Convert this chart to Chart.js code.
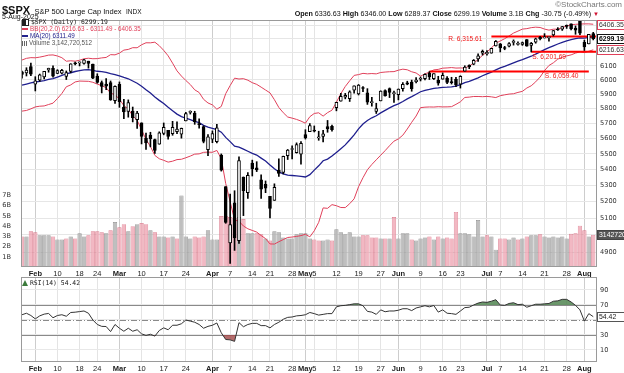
<!DOCTYPE html>
<html><head><meta charset="utf-8">
<script src="https://cdn.jsdelivr.net/npm/chart.js@4.4.1/dist/chart.umd.min.js"></script>
<style>
html,body{margin:0;padding:0;background:#fff;}
#wrap{position:relative;width:624px;height:373px;overflow:hidden;font-family:"Liberation Sans",Arial,sans-serif;color:#111;}
canvas{position:absolute;left:0;}
#cPrice{top:0;width:624px;height:277px;}
#cRsi{top:277px;width:624px;height:96px;}
.t{position:absolute;white-space:nowrap;line-height:1;}
.ic{display:inline-block;vertical-align:middle;margin-right:2px;}
</style></head><body>
<div id="wrap">
<canvas id="cPrice" width="624" height="277"></canvas>
<canvas id="cRsi" width="624" height="96"></canvas>
<div class="t" style="left:2px;top:1px;"><b style="font-size:11px">$SPX</b> <span style="font-size:7.5px">S&amp;P 500 Large Cap Index</span> <span style="font-size:6.5px">INDX</span></div>
<div class="t" style="left:2px;top:12.5px;font-size:7px;">5-Aug-2025</div>
<div class="t" style="right:2px;top:1px;font-size:8px;color:#777;">©StockCharts.com</div>
<div class="t" style="right:25px;top:11px;font-size:7.15px;"><b>Open</b> 6336.63 <b>High</b> 6346.00 <b>Low</b> 6289.37 <b>Close</b> 6299.19 <b>Volume</b> 3.1B <b>Chg</b> -30.75 (-0.49%) <span style="color:#d01030;font-size:6px;">&#9660;</span></div>
<div class="t" id="lg1" style="left:22px;top:19px;font-size:6.4px;font-family:'DejaVu Sans Mono',monospace;color:#222;"></div>
<div class="t" id="lg2" style="left:22px;top:26px;font-size:6.3px;color:#e0405a;"></div>
<div class="t" id="lg3" style="left:22px;top:33px;font-size:6.3px;color:#22228c;"></div>
<div class="t" id="lg4" style="left:22px;top:40px;font-size:6.3px;color:#555;"></div>
<div class="t" id="lg5" style="left:22px;top:280px;font-size:6.4px;font-family:'DejaVu Sans Mono',monospace;color:#222;"></div>
</div>
<script>
// ---------------- data ----------------
const dates = [
'2025-01-29','2025-01-30','2025-01-31','2025-02-03','2025-02-04','2025-02-05','2025-02-06','2025-02-07','2025-02-10','2025-02-11',
'2025-02-12','2025-02-13','2025-02-14','2025-02-18','2025-02-19','2025-02-20','2025-02-21','2025-02-24','2025-02-25','2025-02-26',
'2025-02-27','2025-02-28','2025-03-03','2025-03-04','2025-03-05','2025-03-06','2025-03-07','2025-03-10','2025-03-11','2025-03-12',
'2025-03-13','2025-03-14','2025-03-17','2025-03-18','2025-03-19','2025-03-20','2025-03-21','2025-03-24','2025-03-25','2025-03-26',
'2025-03-27','2025-03-28','2025-03-31','2025-04-01','2025-04-02','2025-04-03','2025-04-04','2025-04-07','2025-04-08','2025-04-09',
'2025-04-10','2025-04-11','2025-04-14','2025-04-15','2025-04-16','2025-04-17','2025-04-21','2025-04-22','2025-04-23','2025-04-24',
'2025-04-25','2025-04-28','2025-04-29','2025-04-30','2025-05-01','2025-05-02','2025-05-05','2025-05-06','2025-05-07','2025-05-08',
'2025-05-09','2025-05-12','2025-05-13','2025-05-14','2025-05-15','2025-05-16','2025-05-19','2025-05-20','2025-05-21','2025-05-22',
'2025-05-23','2025-05-27','2025-05-28','2025-05-29','2025-05-30','2025-06-02','2025-06-03','2025-06-04','2025-06-05','2025-06-06',
'2025-06-09','2025-06-10','2025-06-11','2025-06-12','2025-06-13','2025-06-16','2025-06-17','2025-06-18','2025-06-20','2025-06-23',
'2025-06-24','2025-06-25','2025-06-26','2025-06-27','2025-06-30','2025-07-01','2025-07-02','2025-07-03','2025-07-07','2025-07-08',
'2025-07-09','2025-07-10','2025-07-11','2025-07-14','2025-07-15','2025-07-16','2025-07-17','2025-07-18','2025-07-21','2025-07-22',
'2025-07-23','2025-07-24','2025-07-25','2025-07-28','2025-07-29','2025-07-30','2025-07-31','2025-08-01','2025-08-04','2025-08-05'];

const openP = [
6057,6050,6096,5970,5998,6021,6072,6083,6047,6049,
6025,6061,6115,6121,6118,6134,6114,6027,5982,5971,
5981,5856,5969,5812,5782,5785,5726,5705,5604,5624,
5594,5563,5635,5655,5632,5646,5630,5718,5776,5771,
5695,5679,5527,5597,5580,5492,5292,4953,5193,4966,
5353,5255,5441,5411,5335,5306,5232,5208,5395,5381,
5489,5529,5508,5499,5626,5646,5655,5605,5614,5680,
5681,5807,5853,5880,5869,5929,5902,5944,5910,5842,
5782,5854,5926,5939,5904,5897,5938,5979,5985,5988,
6005,6009,6049,6010,5997,6005,6013,5987,6004,5970,
6062,6104,6112,6150,6193,6187,6193,6246,6261,6230,
6243,6271,6256,6257,6292,6249,6273,6308,6304,6306,
6326,6368,6370,6397,6409,6377,6428,6271,6260,6336.63];
const highP = [
6063,6087,6120,6023,6042,6062,6084,6101,6073,6076,
6064,6116,6127,6129,6147,6134,6114,6044,5993,6010,
5993,5959,5986,5865,5861,5812,5783,5705,5636,5642,
5597,5645,5704,5655,5715,5711,5670,5775,5786,5783,
5732,5685,5627,5651,5695,5500,5292,5246,5267,5481,
5353,5381,5460,5450,5367,5328,5232,5310,5469,5486,
5529,5553,5572,5581,5659,5700,5684,5649,5654,5721,
5690,5845,5906,5906,5924,5958,5968,5954,5939,5878,
5838,5924,5931,5944,5922,5937,5981,5991,5999,6017,
6021,6043,6059.4,6045,6026,6050,6024,6019,6018,6030,
6101,6108,6146,6187,6215,6211,6228,6285,6263,6242,
6269,6290,6275,6274,6292,6271,6303,6315.61,6336,6310,
6360,6381,6390,6401,6410,6394,6428,6288,6330,6346];
const lowP = [
6012,6028,6030,5923,5990,6007,6055,6020,6044,6042,
6003,6051,6107,6100,6112,6084,6009,5977,5909,5932,
5858,5837,5810,5733,5743,5711,5667,5565,5529,5546,
5504,5563,5625,5597,5622,5632,5603,5718,5764,5695,
5670,5572,5489,5573,5571,5390,5069,4835,4910,4950,
5115,5220,5359,5387,5220,5255,5101,5208,5356,5372,
5464,5468,5505,5434,5597,5646,5644,5589,5578,5642,
5650,5786,5853,5868,5850,5907,5895,5918,5830,5817,
5768,5854,5886,5877,5843,5861,5921,5966,5921,5979,
5993,6000,6003,6003,5963,6005,5974,5971,5953,5943,
6062,6080,6108,6133,6178,6177,6192,6244,6201,6217,
6237,6251,6250,6249,6243,6201.69,6265,6289,6303,6281,
6318,6360,6360,6375,6363,6331,6328,6212,6260,6289.37];
const closeP = [
6039,6071,6041,5994,6037,6061,6083,6026,6066,6068,
6052,6115.1,6114.6,6129,6144,6117,6013,5983,5955,5956,
5861,5955,5849,5778,5843,5739,5770,5615,5572,5599,
5522,5639,5675,5615,5675,5663,5668,5767,5777,5712,
5693,5581,5612,5633,5671,5396,5074,5062,4983,5457,
5268,5363,5406,5397,5276,5283,5158,5288,5376,5485,
5525,5529,5561,5569,5604,5687,5650,5607,5631,5664,
5660,5844,5886,5892,5917,5958,5964,5940,5845,5842,
5802,5922,5889,5912.2,5911.7,5936,5970,5971,5939,6000,
6006,6039,6022,6045,5977,6033,5983,5981,5967,6025,
6092,6092,6141,6173,6205,6198,6227,6279,6230,6226,
6263,6280,6259,6269,6244,6264,6297.4,6296.8,6305,6309,
6359,6363,6389,6390,6371,6362,6339,6238,6330,6299.19];
const closeBeforeFirst = 6067.7;

// volume, billions of shares
const volumeB = [
3.0,3.0,3.5,3.4,3.1,3.1,3.1,3.0,2.7,2.7,
2.8,3.0,2.8,3.3,3.0,3.1,3.5,3.5,3.4,3.3,
3.6,4.4,3.9,4.2,3.5,4.0,4.2,4.3,4.2,3.6,
3.4,3.0,3.0,2.9,3.0,2.8,7.0,3.0,2.8,3.0,
2.9,3.0,3.6,2.7,2.7,5.0,5.0,4.9,4.8,4.9,
4.7,3.3,3.3,3.3,3.2,2.8,2.6,3.5,3.4,2.9,
2.8,2.8,3.2,3.3,3.3,2.8,2.7,2.6,2.6,2.7,
2.6,3.7,3.4,3.2,3.4,3.0,3.0,3.1,3.1,2.9,
2.9,2.8,2.8,2.8,4.9,2.8,3.3,3.3,2.7,2.6,
2.8,2.9,3.0,2.7,3.0,2.8,2.9,2.8,5.4,3.3,
3.3,3.2,3.0,4.6,3.0,3.1,3.0,1.7,2.8,2.8,
2.7,2.9,2.7,2.8,3.0,3.1,3.1,3.2,3.0,2.9,
3.0,2.9,3.0,2.8,3.25,3.3,4.05,3.6,3.0,3.1427];
const volumeLastText = '3142720512';

const bbUpper = [
6142.5,6154.5,6159.6,6158.5,6163.4,6170.1,6177.9,6179.3,6171.6,6159.2,
6133.7,6137.0,6134.0,6140.9,6151.5,6155.4,6151.6,6152.6,6157.8,6161.1,
6181.4,6179.9,6192.7,6214.5,6219.4,6232.2,6231.7,6253.6,6268.3,6267.9,
6272.7,6246.6,6212.5,6172.7,6120.0,6064.4,6027.6,5996.3,5967.7,5930.8,
5912.2,5864.9,5839.8,5826.5,5797.1,5815.9,5904.1,5960.6,6012.7,6006.7,
6009.2,5998.2,5980.9,5968.9,5949.5,5929.5,5909.6,5862.3,5808.7,5773.2,
5744.1,5736.5,5727.9,5716.7,5702.3,5746.3,5768.3,5772.6,5750.3,5773.8,
5790.5,5845.1,5904.0,5954.1,5994.3,6032.3,6037.9,6046.8,6043.3,6045.4,
6043.2,6052.9,6056.1,6058.4,6059.2,6069.3,6076.7,6072.2,6058.2,6049.4,
6027.1,6043.2,6055.4,6071.4,6075.1,6083.9,6085.5,6088.1,6084.5,6085.3,
6084.5,6099.1,6120.0,6146.0,6176.7,6201.0,6229.5,6265.4,6281.7,6298.3,
6318.6,6340.4,6354.8,6369.9,6373.4,6380.7,6384.5,6382.1,6370.2,6362.1,
6369.2,6369.7,6381.5,6393.2,6402.2,6405.9,6407.9,6409.1,6409.2,6406.35];
const ma20 = [
5963.3,5971.5,5979.5,5985.7,5990.5,5994.8,6003.5,6008.9,6020.8,6032.4,
6042.9,6051.1,6060.0,6066.6,6071.4,6072.9,6067.6,6061.7,6058.9,6053.3,
6044.4,6038.6,6029.0,6018.2,6008.5,5992.4,5976.7,5956.2,5931.5,5908.0,
5881.5,5857.7,5835.7,5810.0,5786.6,5763.9,5746.6,5735.8,5726.9,5714.7,
5706.3,5687.6,5675.8,5668.5,5659.9,5642.8,5608.0,5580.3,5550.9,5543.8,
5531.1,5517.3,5503.8,5492.9,5473.0,5454.0,5428.5,5404.5,5384.5,5373.1,
5364.7,5362.1,5359.6,5356.4,5353.0,5367.6,5396.4,5423.6,5456.0,5466.4,
5486.0,5510.0,5534.0,5558.8,5590.8,5624.6,5664.9,5697.5,5720.9,5738.8,
5752.6,5772.3,5788.7,5805.8,5821.2,5833.7,5849.7,5867.9,5883.3,5900.1,
5917.4,5927.1,5933.9,5941.6,5944.6,5948.3,5949.3,5951.3,5957.4,5966.6,
5981.1,5989.6,6002.2,6015.2,6029.9,6043.0,6055.8,6071.2,6085.8,6097.1,
6109.9,6122.0,6133.8,6145.0,6158.4,6169.9,6185.6,6201.4,6218.3,6232.5,
6245.9,6259.4,6271.8,6282.7,6291.0,6299.2,6304.8,6302.7,6307.7,6311.49];
const bbLower = [
5784.1,5788.5,5799.4,5812.9,5817.6,5819.5,5829.1,5838.5,5870.0,5905.6,
5952.1,5965.2,5986.0,5992.3,5991.3,5990.4,5983.6,5970.8,5960.0,5945.5,
5907.4,5897.3,5865.3,5821.9,5797.6,5752.6,5721.7,5658.8,5594.7,5548.1,
5490.3,5468.8,5458.9,5447.3,5453.2,5463.4,5465.6,5475.3,5486.1,5498.6,
5500.4,5510.3,5511.8,5510.5,5522.7,5469.7,5311.9,5200.0,5089.1,5080.9,
5053.0,5036.4,5026.7,5016.9,4996.5,4978.5,4947.4,4946.7,4960.3,4973.0,
4985.3,4987.7,4991.3,4996.1,5003.7,4988.9,5024.5,5074.6,5161.7,5159.0,
5181.5,5174.9,5164.0,5163.5,5187.3,5216.9,5291.9,5348.2,5398.5,5432.2,
5462.0,5491.7,5521.3,5553.2,5583.2,5598.1,5622.7,5663.6,5708.4,5750.8,
5807.7,5811.0,5812.4,5811.8,5814.1,5812.7,5813.1,5814.5,5830.3,5847.9,
5877.7,5880.1,5884.4,5884.4,5883.1,5885.0,5882.1,5877.0,5889.9,5895.9,
5901.2,5903.6,5912.8,5920.1,5943.4,5959.1,5986.7,6020.7,6066.4,6102.9,
6122.6,6149.1,6162.1,6172.2,6179.8,6192.5,6201.7,6196.3,6206.2,6216.63];

const rsi14 = [
57,59,56,51.5,55.5,57.8,58.7,53,56,57,
55,60,60.4,61.2,62,59,50,44,41.5,41.3,
34.5,44,39,35,39,35,37,31.5,29.5,31,
28.5,36,39.5,37,43,43,45,50,48.5,47,
44,39,41.5,43,46,33,24,23.5,21.5,46.5,
41,44,45.5,45.5,42.5,42.5,39.5,44,47,51,
53.5,54,55.5,56,57,60,58.5,56.5,57.5,58.5,
58.5,67.5,69,69.5,70.5,71.5,71.5,69,61.5,60.5,
57.5,63.5,61,62,62,63,65,65,62.5,66,
67.5,69,67.5,69.3,60.5,63.5,59,58.5,57.5,62,
66.5,67,70,72.5,74,73.5,75,77,70,69.5,
72,73,70.5,71,67,69,71,71,71.5,72,
75,75.5,77.5,77.5,74,69.5,63.5,48.5,58.5,54.42];

// axis ticks
const xTickDates = ['2025-02-03','2025-02-10','2025-02-18','2025-02-24','2025-03-03','2025-03-10','2025-03-17','2025-03-24',
 '2025-04-01','2025-04-07','2025-04-14','2025-04-21','2025-04-28','2025-05-01','2025-05-05','2025-05-12','2025-05-19','2025-05-27',
 '2025-06-02','2025-06-09','2025-06-16','2025-06-23','2025-07-01','2025-07-07','2025-07-14','2025-07-21','2025-07-28','2025-08-01'];
const xTickText = ['Feb','10','18','24','Mar','10','17','24','Apr','7','14','21','28','May','5','12','19','27',
 'Jun','9','16','23','Jul','7','14','21','28','Aug'];
const priceGrid = [4900,5000,5100,5200,5300,5400,5500,5600,5700,5800,5900,6000,6100,6200,6300,6400];
const priceTickLabels = [4900,5100,5200,5300,5400,5500,5600,5700,5800,5900,6000,6100];
const volTicks = [1,2,3,4,5,6,7];
const rsiTicks = [10,30,50,70,90];
const rsiTickLabels = [10,30,70,90];

// annotation levels
const levelText = ['R. 6,315.61','S. 6,201.69','S. 6,059.40'];
const levelValue = [6315.61, 6201.69, 6059.40];
const levelFrom = ['2025-07-02','2025-07-16','2025-06-11'];
const levelTo = [null, null, '2025-08-04'];

// ---------------- styling / layout ----------------
const levelLabelStyle = [{anchor:'start',align:'right',dx:-9,dy:2.5},{anchor:'start',align:'left',dx:1,dy:5},{anchor:'end',align:'left',dx:-44,dy:5}];
const X_MIN = -0.23, X_MAX = 129.85;
const SANS = '"Liberation Sans", Arial, sans-serif';
const TICKFONT = '"DejaVu Sans", sans-serif';
const xTickIdx = xTickDates.map(d => dates.indexOf(d));
const monthSet = new Set(xTickIdx.filter((v,i) => isNaN(+xTickText[i])));
const last = dates.length - 1;

const fmt = v => v.toFixed(2);
document.getElementById('lg1').innerHTML = '<span class="ic" style="width:5px;height:5px;border:1px solid #222;background:linear-gradient(90deg,#222 50%,#fff 50%);"></span>$SPX (Daily) ' + fmt(closeP[last]);
document.getElementById('lg2').innerHTML = '<span class="ic" style="width:6px;height:2px;background:#e0405a;"></span>BB(20,2.0) ' + fmt(bbLower[last]) + ' - ' + fmt(ma20[last]) + ' - ' + fmt(bbUpper[last]);
document.getElementById('lg3').innerHTML = '<span class="ic" style="width:6px;height:2px;background:#22228c;"></span>MA(20) ' + fmt(ma20[last]);
document.getElementById('lg4').innerHTML = '<span class="ic" style="width:5px;height:5px;background:linear-gradient(90deg,#666 30%,#fff 30%,#fff 45%,#666 45%,#666 70%,#fff 70%,#fff 80%,#666 80%);"></span>Volume ' + Number(volumeLastText).toLocaleString('en-US');
document.getElementById('lg5').innerHTML = '<span class="ic" style="width:0;height:0;border-left:3px solid transparent;border-right:3px solid transparent;border-bottom:6px solid #3a7a3a;"></span>RSI(14) ' + fmt(rsi14[last]);

function xScaleCfg(h){
  return {
    type:'linear', min:X_MIN, max:X_MAX, offset:false,
    afterBuildTicks: s => { s.ticks = xTickIdx.map(v => ({value:v})); },
    afterFit: s => { s.height = h; s.paddingLeft = 0; s.paddingRight = 0; },
    grid:{ offset:false, drawTicks:false, lineWidth:1,
      color: c => (c.tick && monthSet.has(c.tick.value)) ? '#cdcdcd' : '#e4e4e4' },
    border:{display:false},
    ticks:{ autoSkip:false, maxRotation:0, minRotation:0, padding:2, color:'#222',
      font: c => ({family:SANS, size:7.5, weight:(c.tick && monthSet.has(c.tick.value)) ? 'bold' : 'normal'}),
      callback: (v,i) => xTickText[i] }
  };
}

function valueBox(ctx, y, text, o){
  const x = 597.5, h = 9;
  const top = Math.round(y - h/2) + 0.5;
  ctx.fillStyle = o.fill; ctx.fillRect(x, top, 30, h);
  ctx.strokeStyle = o.stroke; ctx.lineWidth = 1; ctx.strokeRect(x, top, 30, h);
  ctx.fillStyle = o.color; ctx.textAlign = 'left'; ctx.textBaseline = 'middle';
  ctx.font = (o.bold ? 'bold ' : '') + '6.9px ' + SANS;
  ctx.fillText(text, x + 1.5, top + h/2 + 0.5);
}
function panelBorder(chart){
  const {ctx, chartArea:a} = chart;
  ctx.save(); ctx.strokeStyle = '#9a9a9a'; ctx.lineWidth = 1;
  ctx.strokeRect(Math.round(a.left)+0.5, Math.round(a.top)+0.5, Math.round(a.right-a.left)-1, Math.round(a.bottom-a.top)-1);
  ctx.restore();
}

const pricePlugin = {
  id:'pricePlugin',
  afterDatasetsDraw(chart){
    const {ctx, chartArea:a, scales} = chart;
    ctx.save();
    ctx.font = '6.6px ' + SANS; ctx.fillStyle = '#f01818'; ctx.textBaseline = 'middle';
    levelValue.forEach((v,k) => {
      const st = levelLabelStyle[k];
      const y = scales.y.getPixelForValue(v);
      const xs = scales.x.getPixelForValue(dates.indexOf(levelFrom[k]));
      const xe = levelTo[k] ? scales.x.getPixelForValue(dates.indexOf(levelTo[k])) : a.right;
      ctx.textAlign = st.align;
      ctx.fillText(levelText[k], (st.anchor === 'start' ? xs : xe) + st.dx, y + st.dy);
    });
    ctx.restore();
  },
  afterDraw(chart){
    const {ctx, scales} = chart;
    panelBorder(chart);
    ctx.save();
    valueBox(ctx, scales.y.getPixelForValue(bbUpper[last]), fmt(bbUpper[last]), {fill:'#fff', stroke:'#e0405a', color:'#333'});
    valueBox(ctx, scales.y.getPixelForValue(closeP[last]), fmt(closeP[last]), {fill:'#fff', stroke:'#111', color:'#000', bold:true});
    valueBox(ctx, scales.y.getPixelForValue(bbLower[last]), fmt(bbLower[last]), {fill:'#fff', stroke:'#e0405a', color:'#333'});
    valueBox(ctx, scales.yVol.getPixelForValue(volumeB[last]), volumeLastText, {fill:'#555', stroke:'#444', color:'#fff'});
    ctx.restore();
  }
};

const rsiPlugin = {
  id:'rsiPlugin',
  beforeDatasetsDraw(chart){
    const {ctx, chartArea:a, scales} = chart;
    ctx.save(); ctx.lineWidth = 1;
    [70,30].forEach(v => {
      const y = Math.round(scales.y.getPixelForValue(v)) + 0.5;
      ctx.strokeStyle = '#8a8a8a'; ctx.beginPath(); ctx.moveTo(a.left, y); ctx.lineTo(a.right, y); ctx.stroke();
    });
    const y50 = Math.round(scales.y.getPixelForValue(50)) + 0.5;
    ctx.strokeStyle = '#8a8a8a'; ctx.setLineDash([6,2,1,2]);
    ctx.beginPath(); ctx.moveTo(a.left, y50); ctx.lineTo(a.right, y50); ctx.stroke();
    ctx.restore();
  },
  afterDraw(chart){
    const {ctx, scales} = chart;
    panelBorder(chart);
    ctx.save();
    valueBox(ctx, scales.y.getPixelForValue(rsi14[last]), fmt(rsi14[last]), {fill:'#fff', stroke:'#555', color:'#222'});
    ctx.restore();
  }
};

// ---------------- price chart ----------------
const volFill = [], volEdge = [];
closeP.forEach((c,i) => {
  const prev = i === 0 ? closeBeforeFirst : closeP[i-1];
  const down = c < prev;
  volFill.push(down ? 'rgba(238,160,175,0.75)' : 'rgba(175,175,175,0.8)');
  volEdge.push(down ? 'rgba(215,110,130,0.9)' : 'rgba(135,135,135,0.9)');
});
const bodyFill = closeP.map((c,i) => c >= openP[i] ? '#ffffff' : '#000000');
const pts = arr => arr.map((v,i) => ({x:i, y:v}));

new Chart(document.getElementById('cPrice'), {
  type:'bar',
  data:{ datasets:[
    {type:'bar', data: pts(volumeB), xAxisID:'x', yAxisID:'yVol', backgroundColor: volFill, borderColor: volEdge,
      borderWidth:0.7, borderSkipped:'bottom', barPercentage:0.97, categoryPercentage:1, grouped:false, order:10},
    {type:'line', data: pts(bbUpper), yAxisID:'y', borderColor:'#e0405a', borderWidth:1, pointRadius:0, fill:false, order:6},
    {type:'line', data: pts(bbLower), yAxisID:'y', borderColor:'#e0405a', borderWidth:1, pointRadius:0, fill:false, order:6},
    {type:'line', data: pts(ma20), yAxisID:'y', borderColor:'#1f1f8e', borderWidth:1.3, pointRadius:0, fill:false, order:5},
    ...levelValue.map((v,k) => ({type:'line', yAxisID:'y', borderColor:'#ff0000', borderWidth:2, pointRadius:0, fill:false, order:4,
      data:[{x:dates.indexOf(levelFrom[k]), y:v}, {x: levelTo[k] ? dates.indexOf(levelTo[k]) : X_MAX, y:v}]})),
    {type:'bar', data: dates.map((d,i) => ({x:i, y:[lowP[i], highP[i]]})), yAxisID:'y', backgroundColor:'#000',
      barThickness:1, grouped:false, order:2},
    {type:'bar', data: dates.map((d,i) => ({x:i, y:[openP[i], closeP[i]]})), yAxisID:'y', backgroundColor: bodyFill,
      borderColor:'#000', borderWidth:1, borderSkipped:false, barThickness:3, minBarLength:1, grouped:false, order:1}
  ]},
  options:{
    responsive:false, animation:false, events:[],
    layout:{padding:{top:20, left:0, right:0, bottom:0}},
    plugins:{legend:{display:false}, tooltip:{enabled:false}},
    scales:{
      x: xScaleCfg(10),
      y: { type:'logarithmic', position:'right', min:4815, max:6438.5,
        afterBuildTicks: s => { s.ticks = priceGrid.map(v => ({value:v})); },
        afterFit: s => { s.width = 27; s.paddingTop = 0; s.paddingBottom = 0; },
        grid:{color:'#e6e6e6', drawTicks:false}, border:{display:false},
        ticks:{padding:3, color:'#333', font:{family:TICKFONT, size:6.6},
          callback: v => priceTickLabels.includes(v) ? String(v) : ''} },
      yVol: { type:'linear', position:'left', min:0, max:24.2,
        afterBuildTicks: s => { s.ticks = volTicks.map(v => ({value:v})); },
        afterFit: s => { s.width = 21; s.paddingTop = 0; s.paddingBottom = 0; },
        grid:{display:false}, border:{display:false},
        ticks:{padding:2, color:'#333', font:{family:TICKFONT, size:6.6}, callback: v => v + 'B'} }
    }
  },
  plugins:[pricePlugin]
});

// ---------------- RSI chart ----------------
new Chart(document.getElementById('cRsi'), {
  type:'line',
  data:{ datasets:[
    {data: pts(rsi14), borderColor:'#333', borderWidth:1, pointRadius:0, order:1,
      fill:{target:{value:70}, above:'rgba(70,125,70,0.8)', below:'rgba(0,0,0,0)'}},
    {data: pts(rsi14), borderColor:'rgba(0,0,0,0)', borderWidth:0, pointRadius:0, order:2,
      fill:{target:{value:30}, above:'rgba(0,0,0,0)', below:'rgba(160,70,70,0.8)'}}
  ]},
  options:{
    responsive:false, animation:false, events:[],
    layout:{padding:{top:0, left:21, right:0, bottom:0}},
    plugins:{legend:{display:false}, tooltip:{enabled:false}},
    scales:{
      x: xScaleCfg(11),
      y: { type:'linear', position:'right', min:-6, max:107.3,
        afterBuildTicks: s => { s.ticks = rsiTicks.map(v => ({value:v})); },
        afterFit: s => { s.width = 27; s.paddingTop = 0; s.paddingBottom = 0; },
        grid:{color:'#e8e8e8', drawTicks:false}, border:{display:false},
        ticks:{padding:3, color:'#333', font:{family:TICKFONT, size:6.6},
          callback: v => rsiTickLabels.includes(v) ? String(v) : ''} }
    }
  },
  plugins:[rsiPlugin]
});
</script>
</body></html>
